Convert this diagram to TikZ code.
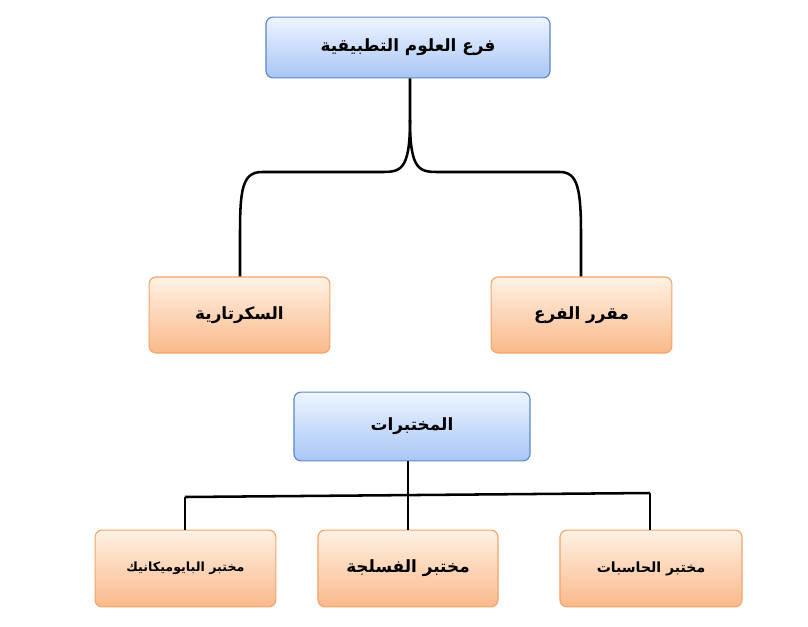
\documentclass[tikz,border=0pt]{standalone}
\usepackage{fontspec}
\newfontfamily\arabicfont[Script=Arabic]{DejaVu Sans}
\TeXXeTstate=1
\usetikzlibrary{positioning}
\definecolor{bluetop}{HTML}{EEF4FF}
\definecolor{bluebot}{HTML}{A8C6F5}
\definecolor{blueline}{HTML}{5B87C5}
\definecolor{orangetop}{HTML}{FFF1E4}
\definecolor{orangebot}{HTML}{F9B98A}
\definecolor{orangeline}{HTML}{F2A46A}
\tikzstyle{headbox} = [rectangle, rounded corners=5pt, draw=blueline, thick, top color=bluetop, bottom color=bluebot, font=\arabicfont\bfseries]
\tikzstyle{unitbox} = [rectangle, rounded corners=5pt, draw=orangeline, thick, top color=orangetop, bottom color=orangebot, font=\arabicfont\bfseries]
\tikzstyle{link} = [line width=1.8pt, -]
\begin{document}
\begin{tikzpicture}[x=0.025cm, y=-0.025cm]
\useasboundingbox (0,0) rectangle (808,626);
\node (branch) [headbox, minimum width=7.1cm, minimum height=1.52cm] at (408,47.5) {\large\beginR فرع العلوم التطبيقية\endR};
\node (secr) [unitbox, minimum width=4.52cm, minimum height=1.9cm] at (239.5,315) {\large\beginR السكرتارية\endR};
\node (chair) [unitbox, minimum width=4.52cm, minimum height=1.9cm] at (581.5,315) {\large\beginR مقرر الفرع\endR};
\node (labs) [headbox, minimum width=5.9cm, minimum height=1.72cm] at (412,426.5) {\large\beginR المختبرات\endR};
\node (bio) [unitbox, minimum width=4.52cm, minimum height=1.92cm] at (185.5,568.5) {\small\beginR مختبر البايوميكانيك\endR};
\node (phil) [unitbox, minimum width=4.5cm, minimum height=1.92cm] at (408,568.5) {\large\beginR مختبر الفسلجة\endR};
\node (comp) [unitbox, minimum width=4.55cm, minimum height=1.92cm] at (651,568.5) {\beginR مختبر الحاسبات\endR};
\coordinate (fork) at (410,120);
\coordinate (bar) at (408,495);
\draw [link] (branch.south -| fork) -- (fork) .. controls (410,172) and (400,172) .. (380,172) -- (262,172) .. controls (242,172) and (240,190) .. (240,235) -- (secr.north -| 240,0);
\draw [link] (fork) .. controls (410,172) and (420,172) .. (440,172) -- (560,172) .. controls (578,172) and (581,190) .. (581,235) -- (chair.north -| 581,0);
\draw [link] (labs.south -| bar) -- (bar);
\draw [link] (185,497) -- (650,493);
\draw [link] (185,497) -- (bio.north -| 185,0);
\draw [link] (408,495) -- (phil.north);
\draw [link] (650,493) -- (comp.north -| 650,0);
\end{tikzpicture}
\end{document}
